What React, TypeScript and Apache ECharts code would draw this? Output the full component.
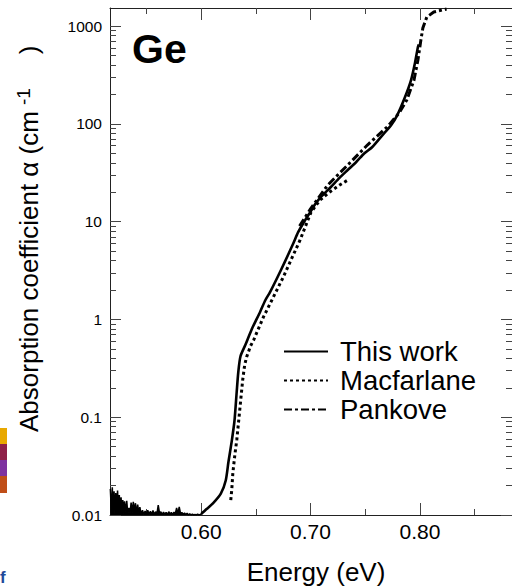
import React, { useEffect, useRef } from "react";
import * as echarts from "echarts";

// ---- data ----
const noiseEnergy = [
  0.517, 0.518, 0.5188, 0.5196, 0.5204, 0.5212, 0.522, 0.5228, 0.5236, 0.5244, 0.5252, 0.526, 0.5268, 0.5276,
  0.5284, 0.5292, 0.53, 0.531, 0.532, 0.533, 0.534, 0.535, 0.536, 0.537, 0.538, 0.539, 0.54, 0.541, 0.542, 0.543,
  0.544, 0.5452, 0.5464, 0.5476, 0.5488, 0.55, 0.5512, 0.5524, 0.5536, 0.5548, 0.556, 0.5572, 0.5584, 0.5596,
  0.5608, 0.562, 0.5632, 0.5644, 0.5656, 0.5668, 0.568, 0.5692, 0.5704, 0.5716, 0.5728, 0.574, 0.5752, 0.5764,
  0.5776, 0.5788, 0.58, 0.5812, 0.5824, 0.5836, 0.5848, 0.586, 0.5872, 0.5884, 0.5896, 0.5908, 0.592, 0.5932,
  0.5944, 0.5956, 0.5968, 0.598, 0.5992, 0.6,
];
const noiseAlpha = [
  0.0185, 0.0105, 0.0192, 0.011, 0.0175, 0.0102, 0.0168, 0.0108, 0.0178, 0.0112, 0.016, 0.0104, 0.0152, 0.011,
  0.0142, 0.0103, 0.0138, 0.0108, 0.014, 0.0102, 0.0118, 0.0104, 0.0134, 0.0106, 0.0136, 0.011, 0.0132, 0.0104,
  0.0128, 0.0106, 0.012, 0.0102, 0.0112, 0.0101, 0.011, 0.0103, 0.0112, 0.0101, 0.0109, 0.0102, 0.0111, 0.0101,
  0.0108, 0.0103, 0.0126, 0.0104, 0.0108, 0.0101, 0.0107, 0.0102, 0.0106, 0.0101, 0.0108, 0.0102, 0.0106, 0.0101,
  0.0107, 0.0103, 0.0118, 0.0104, 0.0121, 0.0103, 0.0106, 0.0101, 0.0105, 0.0101, 0.0104, 0.01, 0.0103, 0.01,
  0.0102, 0.01, 0.0101, 0.01, 0.0102, 0.01, 0.0101, 0.0102,
];
const thisWorkEnergy = [
  0.6, 0.605, 0.611, 0.618, 0.6225, 0.625, 0.628, 0.6305, 0.6325, 0.634, 0.636, 0.6405, 0.646, 0.654, 0.6588,
  0.663, 0.673, 0.684, 0.6887, 0.6945, 0.7005, 0.7045, 0.709, 0.7186, 0.7265, 0.734, 0.742, 0.7493, 0.7565,
  0.7674, 0.7735, 0.7792, 0.7864, 0.7919, 0.7955, 0.7982, 0.799,
];
const thisWorkAlpha = [
  0.0102, 0.0115, 0.0132, 0.0165, 0.0225, 0.035, 0.057, 0.092, 0.18, 0.29, 0.42, 0.55, 0.78, 1.2, 1.58, 1.9,
  3.2, 5.9, 7.8, 10.1, 12.9, 15.2, 17.6, 22.6, 28, 33.7, 41, 50, 58, 80.5, 96, 122, 188, 280, 420, 610, 650,
];
const macfarlaneEnergy = [
  0.6271, 0.628, 0.629, 0.6308, 0.6326, 0.6344, 0.6362, 0.638, 0.6398, 0.6416, 0.6452, 0.648, 0.657, 0.666,
  0.6751, 0.6905, 0.7005, 0.7086, 0.7176, 0.7267, 0.734,
];
const macfarlaneAlpha = [
  0.0142, 0.018, 0.0268, 0.041, 0.0585, 0.0935, 0.15, 0.24, 0.342, 0.413, 0.535, 0.615, 1.06, 1.69, 2.71, 6.5,
  12.5, 16.6, 20.1, 23.7, 26.6,
];
const pankoveEnergy = [
  0.69, 0.7, 0.7158, 0.734, 0.752, 0.77, 0.781, 0.788, 0.7946, 0.7982, 0.8009, 0.8027, 0.8063, 0.8127, 0.8244,
];
const pankoveAlpha = [9.0, 13.5, 23.7, 37.9, 60.7, 92.7, 129, 175, 280, 449, 719, 955, 1236, 1390, 1494];

const seriesNames = ["This work", "Macfarlane", "Pankove"];
const xMajorTicks = [0.6, 0.7, 0.8];
const xMinorTicks = [0.55, 0.65, 0.75, 0.85];
const yMajorTicks = [0.01, 0.1, 1, 10, 100, 1000];
const yTickLabels = ["0.01", "0.1", "1", "10", "100", "1000"];
const yMinorMultipliers = [2, 3, 4, 5, 6, 7, 8, 9];

const X_MIN = 0.5167;
const X_MAX = 0.8842;
const Y_MIN = 0.01;
const Y_MAX = 1530;

const FONT = "'Liberation Sans', Arial, Helvetica, sans-serif";

const zip = (xs: number[], ys: number[]) => xs.map((x, i) => [x, ys[i]]);

export default function App() {
  const ref = useRef<HTMLDivElement>(null);

  useEffect(() => {
    if (!ref.current) return;
    const chart = echarts.init(ref.current, undefined, { renderer: "svg" });

    const yMinorTicks: number[] = [];
    yMajorTicks.forEach((d) =>
      yMinorMultipliers.forEach((m) => {
        const v = d * m;
        if (v < Y_MAX) yMinorTicks.push(v);
      })
    );

    const lineColor = "#222";
    const tickColor = "#444";

    const xAxisBase = (position: "top" | "bottom", ticks: number[], len: number, showLine: boolean, showLabel: boolean) => ({
      type: "value" as const,
      min: X_MIN,
      max: X_MAX,
      position,
      splitLine: { show: false },
      axisLine: { show: showLine, onZero: false, lineStyle: { color: lineColor, width: 1 } },
      axisTick: { show: true, inside: true, length: len, customValues: ticks, lineStyle: { color: tickColor, width: 1 } },
      axisLabel: {
        show: showLabel,
        customValues: ticks,
        margin: 6,
        color: "#000",
        fontSize: 21,
        fontFamily: FONT,
        formatter: (v: number) => v.toFixed(2),
      },
    });

    const yAxisBase = (position: "left" | "right", ticks: number[], len: number, showLine: boolean, showLabel: boolean) => ({
      type: "log" as const,
      logBase: 10,
      min: Y_MIN,
      max: Y_MAX,
      position,
      splitLine: { show: false },
      minorTick: { show: false },
      axisLine: { show: showLine, onZero: false, lineStyle: { color: lineColor, width: 1 } },
      axisTick: { show: true, inside: true, length: len, customValues: ticks, lineStyle: { color: tickColor, width: 1 } },
      axisLabel: {
        show: showLabel,
        customValues: ticks,
        margin: 8,
        color: "#000",
        fontSize: 15.5,
        fontFamily: FONT,
        formatter: (v: number) => {
          const idx = yMajorTicks.findIndex((t) => Math.abs(Math.log10(t) - Math.log10(v)) < 1e-6);
          return idx >= 0 ? yTickLabels[idx] : "";
        },
      },
    });

    const option: any = {
      animation: false,
      backgroundColor: "#fff",
      grid: { left: 110, top: 8, width: 406, height: 507, containLabel: false },
      xAxis: [
        xAxisBase("bottom", xMajorTicks, 12, true, true),
        xAxisBase("bottom", xMinorTicks, 6, false, false),
        xAxisBase("top", xMajorTicks, 12, true, false),
        xAxisBase("top", xMinorTicks, 6, false, false),
      ],
      yAxis: [
        yAxisBase("left", yMajorTicks, 11, true, true),
        yAxisBase("left", yMinorTicks, 6, false, false),
        yAxisBase("right", yMajorTicks, 11, true, false),
        yAxisBase("right", yMinorTicks, 6, false, false),
      ],
      legend: {
        data: seriesNames,
        orient: "vertical",
        left: 283,
        top: 337,
        padding: 0,
        itemGap: 0,
        itemWidth: 44,
        itemHeight: 12,
        itemStyle: { color: "rgba(0,0,0,0)", borderColor: "rgba(0,0,0,0)", borderWidth: 0, opacity: 0 },
        textStyle: { fontSize: 27.5, fontFamily: FONT, color: "#000", lineHeight: 29, padding: [0, 0, 0, 7] },
      },
      series: [
        {
          name: seriesNames[0],
          type: "line",
          data: zip(thisWorkEnergy, thisWorkAlpha),
          symbol: "none",
          showSymbol: false,
          smooth: 0.25,
          lineStyle: { color: "#000", width: 2.6, type: "solid" },
          itemStyle: { color: "#000" },
          xAxisIndex: 0,
          yAxisIndex: 0,
          z: 3,
        },
        {
          name: seriesNames[0],
          type: "line",
          data: zip(noiseEnergy, noiseAlpha),
          symbol: "none",
          showSymbol: false,
          lineStyle: { color: "#000", width: 1.5, type: "solid" },
          areaStyle: { color: "#000", opacity: 1, origin: "start" },
          itemStyle: { color: "#000" },
          xAxisIndex: 0,
          yAxisIndex: 0,
          z: 3,
        },
        {
          name: seriesNames[1],
          type: "line",
          data: zip(macfarlaneEnergy, macfarlaneAlpha),
          symbol: "none",
          showSymbol: false,
          lineStyle: { color: "#000", width: 3, type: [3, 3], cap: "butt" },
          itemStyle: { color: "#000" },
          xAxisIndex: 0,
          yAxisIndex: 0,
          z: 2,
        },
        {
          name: seriesNames[2],
          type: "line",
          data: zip(pankoveEnergy, pankoveAlpha),
          symbol: "none",
          showSymbol: false,
          lineStyle: { color: "#000", width: 3, type: [8, 3, 3, 3], cap: "butt" },
          itemStyle: { color: "#000" },
          xAxisIndex: 0,
          yAxisIndex: 0,
          z: 2,
        },
      ],
      graphic: [
        {
          type: "text",
          x: 29,
          y: 432,
          rotation: Math.PI / 2,
          style: {
            text: "{a|Absorption coefficient α (cm}{s|-1}{p|)}",
            align: "left",
            verticalAlign: "middle",
            rich: {
              a: { fontSize: 26, fontFamily: FONT, fill: "#000", lineHeight: 30 },
              s: { fontSize: 19, fontFamily: FONT, fill: "#000", lineHeight: 19, verticalAlign: "top", padding: [0, 0, 0, 6] },
              p: { fontSize: 26, fontFamily: FONT, fill: "#000", lineHeight: 30, padding: [0, 0, 0, 34] },
            },
          },
        },
        {
          type: "text",
          x: 316,
          y: 572,
          style: { text: "Energy (eV)", fontSize: 26, fontFamily: FONT, fill: "#000", align: "center", verticalAlign: "middle" },
        },
        {
          type: "text",
          x: 132,
          y: 49,
          style: { text: "Ge", fontSize: 41, fontWeight: "bold", fontFamily: FONT, fill: "#000", align: "left", verticalAlign: "middle" },
        },
        { type: "rect", shape: { x: 0, y: 428, width: 7, height: 16 }, style: { fill: "#E8A800" } },
        { type: "rect", shape: { x: 0, y: 444, width: 7, height: 16 }, style: { fill: "#8E2048" } },
        { type: "rect", shape: { x: 0, y: 460, width: 7, height: 16 }, style: { fill: "#7E32A0" } },
        { type: "rect", shape: { x: 0, y: 476, width: 7, height: 17 }, style: { fill: "#C04E18" } },
        {
          type: "text",
          x: 0,
          y: 577,
          style: { text: "f", fontSize: 17, fontWeight: "bold", fontFamily: FONT, fill: "#1F4A9A", align: "left", verticalAlign: "middle" },
        },
      ],
    };

    chart.setOption(option);
    return () => chart.dispose();
  }, []);

  return <div ref={ref} style={{ position: "fixed", left: 0, top: 0, width: 512, height: 587 }} />;
}
